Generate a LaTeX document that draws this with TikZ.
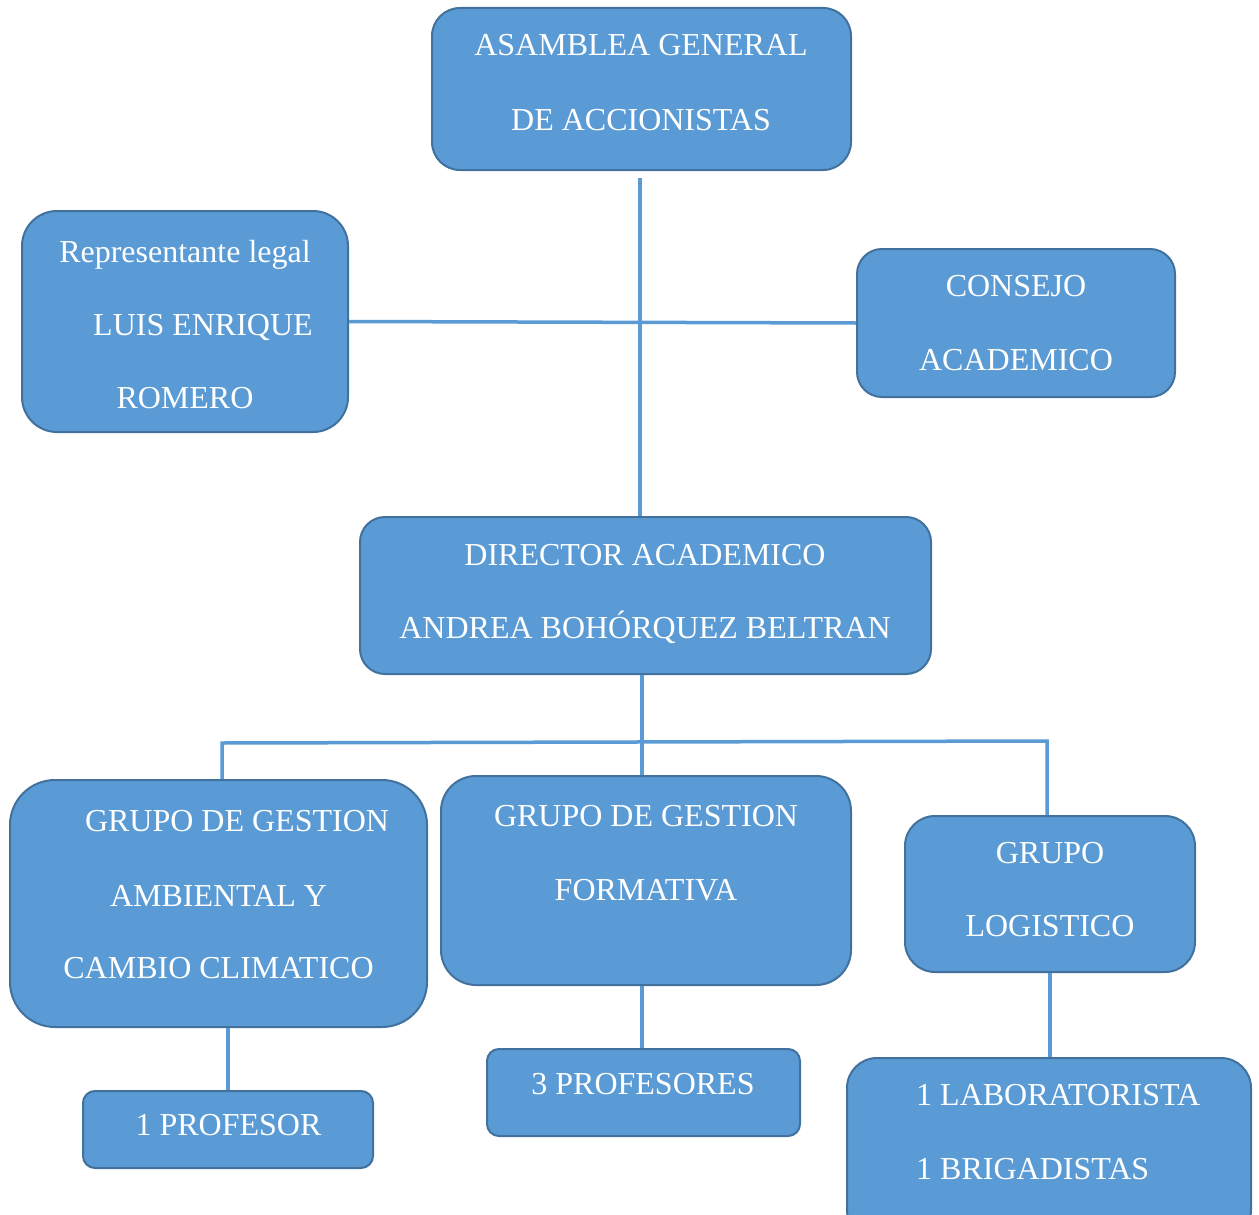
\documentclass[tikz,border=0pt]{standalone}
\usepackage{fontspec}
\setmainfont{Liberation Serif}
\begin{document}
\definecolor{boxfill}{HTML}{5B9BD5}
\definecolor{boxedge}{HTML}{41719C}
\definecolor{linkc}{HTML}{5B9BD5}
\begin{tikzpicture}[x=1pt,y=-1pt,
  box/.style={draw=boxedge, fill=boxfill, line width=2pt, inner sep=0pt, rounded corners=#1},
  box/.default=25pt,
  lbl/.style={text=white, inner sep=0pt, font=\fontsize{32}{38}\selectfont},
  link/.style={draw=linkc, line width=3.5pt}]
\useasboundingbox (0,0) rectangle (1259,1215);
\fill[white] (0,0) rectangle (1259,1215);

% boxes
\node[box=28pt, minimum width=419pt, minimum height=162pt] (asam) at (641.5,89) {};
\node[box=35pt, minimum width=326pt, minimum height=221pt] (rep) at (185,321.5) {};
\node[box=25pt, minimum width=318pt, minimum height=148pt] (cons) at (1016,323) {};
\node[box=25pt, minimum width=571pt, minimum height=157pt] (dir) at (645.5,595.5) {};
\node[box=45pt, minimum width=417pt, minimum height=247pt] (g1) at (218.5,903.5) {};
\node[box=35pt, minimum width=410pt, minimum height=209pt] (g2) at (646,880.5) {};
\node[box=30pt, minimum width=290pt, minimum height=156pt] (g3) at (1050,894) {};
\node[box=12pt, minimum width=290pt, minimum height=77pt] (prof1) at (228,1129.5) {};
\node[box=12pt, minimum width=313pt, minimum height=87pt] (prof3) at (643.5,1092.5) {};
\node[box=30pt, minimum width=404pt, minimum height=182pt] (lab) at (1049,1149) {};

% labels
\node[lbl, anchor=base] (asamA) at (641,56) {ASAMBLEA GENERAL};
\node[lbl, anchor=base] (asamB) at (641,130) {DE ACCIONISTAS};
\node[lbl, anchor=base] (repA) at (185,262) {Representante legal};
\node[lbl, anchor=base] (repB) at (203,335) {LUIS ENRIQUE};
\node[lbl, anchor=base] (repC) at (185,408) {ROMERO};
\node[lbl, anchor=base] (consA) at (1016,296) {CONSEJO};
\node[lbl, anchor=base] (consB) at (1016,370) {ACADEMICO};
\node[lbl, anchor=base] (dirA) at (645,565) {DIRECTOR ACADEMICO};
\node[lbl, anchor=base] (dirB) at (645,638) {ANDREA BOHÓRQUEZ BELTRAN};
\node[lbl, anchor=base] (g1A) at (237,831) {GRUPO DE GESTION};
\node[lbl, anchor=base] (g1B) at (218.5,906) {AMBIENTAL Y};
\node[lbl, anchor=base] (g1C) at (218.5,978) {CAMBIO CLIMATICO};
\node[lbl, anchor=base] (g2A) at (646,826) {GRUPO DE GESTION};
\node[lbl, anchor=base] (g2B) at (646,900) {FORMATIVA};
\node[lbl, anchor=base] (g3A) at (1050,863) {GRUPO};
\node[lbl, anchor=base] (g3B) at (1050,936) {LOGISTICO};
\node[lbl, anchor=base] (prof1A) at (228.5,1135) {1 PROFESOR};
\node[lbl, anchor=base] (prof3A) at (643,1094) {3 PROFESORES};
\node[lbl, anchor=base west] (labA) at (916,1105) {1 LABORATORISTA};
\node[lbl, anchor=base west] (labB) at (916,1179) {1 BRIGADISTAS};

% connectors
\coordinate (asamdrop) at (640,178);
\draw[link] (asamdrop) -- (asamdrop |- dir.north);
\draw[link] (rep.east) -- (cons.west);
\coordinate (hub) at (642,743);
\draw[link] (hub |- dir.south) -- (hub |- g2.north);
\coordinate (busl) at (222,743);
\coordinate (busr) at (1047,741);
\draw[link] (busl |- g1.north) -- (busl) -- (busr) -- (busr |- g3.north);
\coordinate (p1drop) at (228,1060);
\draw[link] (p1drop |- g1.south) -- (p1drop |- prof1.north);
\draw[link] (hub |- g2.south) -- (hub |- prof3.north);
\draw[link] (g3.south) -- (g3.south |- lab.north);
\end{tikzpicture}
\end{document}
